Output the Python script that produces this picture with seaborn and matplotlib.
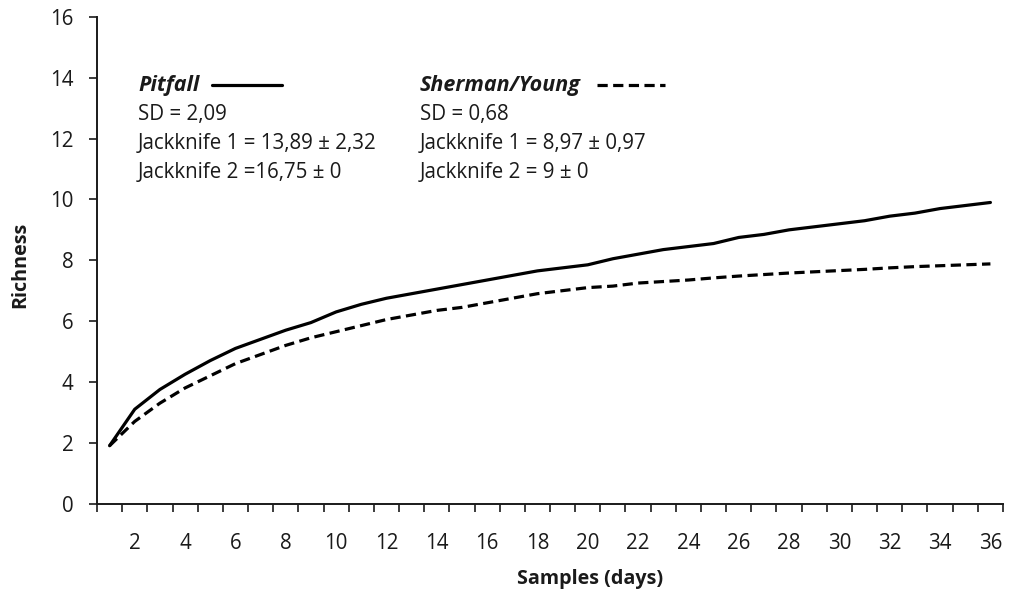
import matplotlib
matplotlib.use("Agg")
import matplotlib.pyplot as plt
from matplotlib.lines import Line2D
from matplotlib.ticker import FixedLocator
import seaborn as sns
import pandas as pd
import numpy as np

samples = list(range(1, 37))
pitfall = [1.9, 3.1, 3.75, 4.25, 4.7, 5.1, 5.4, 5.7, 5.95, 6.3, 6.55, 6.75,
           6.9, 7.05, 7.2, 7.35, 7.5, 7.65, 7.75, 7.85, 8.05, 8.2, 8.35, 8.45,
           8.55, 8.75, 8.85, 9.0, 9.1, 9.2, 9.3, 9.45, 9.55, 9.7, 9.8, 9.9]
sherman = [1.9, 2.7, 3.3, 3.8, 4.2, 4.6, 4.9, 5.2, 5.45, 5.65, 5.85, 6.05,
           6.2, 6.35, 6.45, 6.6, 6.75, 6.9, 7.0, 7.1, 7.15, 7.25, 7.3, 7.35,
           7.42, 7.48, 7.53, 7.58, 7.62, 7.66, 7.7, 7.75, 7.79, 7.82, 7.85, 7.88]
xtick_labels = [str(v) for v in range(2, 37, 2)]
ytick_values = list(range(0, 17, 2))

series_names = ["Pitfall", "Sherman/Young"]
pitfall_text = ["SD = 2,09", "Jackknife 1 = 13,89 \u00b1 2,32", "Jackknife 2 =16,75 \u00b1 0"]
sherman_text = ["SD = 0,68", "Jackknife 1 = 8,97 \u00b1 0,97", "Jackknife 2 = 9 \u00b1 0"]

df = pd.DataFrame({
    "Samples": samples * 2,
    "Richness": pitfall + sherman,
    "Series": [series_names[0]] * len(samples) + [series_names[1]] * len(samples),
})

sns.set_style("white")
FONT = ["Open Sans", "DejaVu Sans"]
plt.rcParams["font.family"] = FONT
ink = "#1a1a1a"
FS = 14.8
FS_AX = 14.2
FS_HEAD = 15.5

W, H = 1009, 601
fig = plt.figure(figsize=(W / 100, H / 100), dpi=100)
L, R, T, B = 97, 1003, 17, 503.5
ax = fig.add_axes([L / W, 1 - B / H, (R - L) / W, (B - T) / H])

sns.lineplot(data=df, x="Samples", y="Richness", style="Series", hue="Series",
             palette={series_names[0]: "black", series_names[1]: "black"},
             dashes={series_names[0]: "", series_names[1]: (3.2, 1.7)},
             linewidth=2.3, ax=ax, legend=False)

ax.set_xlim(0.5, 36.5)
ax.set_ylim(0, 16)
ax.set_xticks(range(2, 37, 2))
ax.set_xticklabels(xtick_labels)
ax.xaxis.set_minor_locator(FixedLocator(np.arange(0.5, 37, 1.0)))
ax.tick_params(axis="x", which="major", length=0, pad=21, labelsize=FS, colors=ink)
ax.tick_params(axis="x", which="minor", length=6, width=1.2, direction="out", color=ink, bottom=True)
ax.set_yticks(ytick_values)
ax.tick_params(axis="y", which="major", length=6, width=1.2, direction="out", pad=11,
               labelsize=FS, colors=ink, left=True)

for s in ["top", "right"]:
    ax.spines[s].set_visible(False)
for s in ["left", "bottom"]:
    ax.spines[s].set_color(ink)
    ax.spines[s].set_linewidth(1.4)

ax.set_xlabel("Samples (days)", fontsize=FS_AX, fontweight="bold", color=ink)
ax.xaxis.set_label_coords((590 - L) / (R - L), (B - 569) / (B - T))
ax.set_ylabel("Richness", fontsize=FS_AX, fontweight="bold", color=ink)
ax.yaxis.set_label_coords((30 - L) / (R - L), (B - 265) / (B - T))

def fx(px):
    return px / W

def fy(py):
    return 1 - py / H

line_gap = 29.5
for x0, name, lines, dash, lx in [(138, series_names[0], pitfall_text, "", (212, 282)),
                                  (420, series_names[1], sherman_text, (3.2, 1.7), (597, 665))]:
    fig.text(fx(x0), fy(85), name, fontsize=FS_HEAD, fontweight="bold", fontstyle="italic",
             va="center", ha="left", color=ink)
    for i, t in enumerate(lines):
        fig.text(fx(x0), fy(114 + line_gap * i), t, fontsize=FS, va="center", ha="left", color=ink)
    ln = Line2D([fx(lx[0]), fx(lx[1])], [fy(85), fy(85)], transform=fig.transFigure,
                color="black", linewidth=2.3)
    if dash:
        ln.set_dashes(dash)
    fig.add_artist(ln)

fig.savefig("out.png", dpi=100)
